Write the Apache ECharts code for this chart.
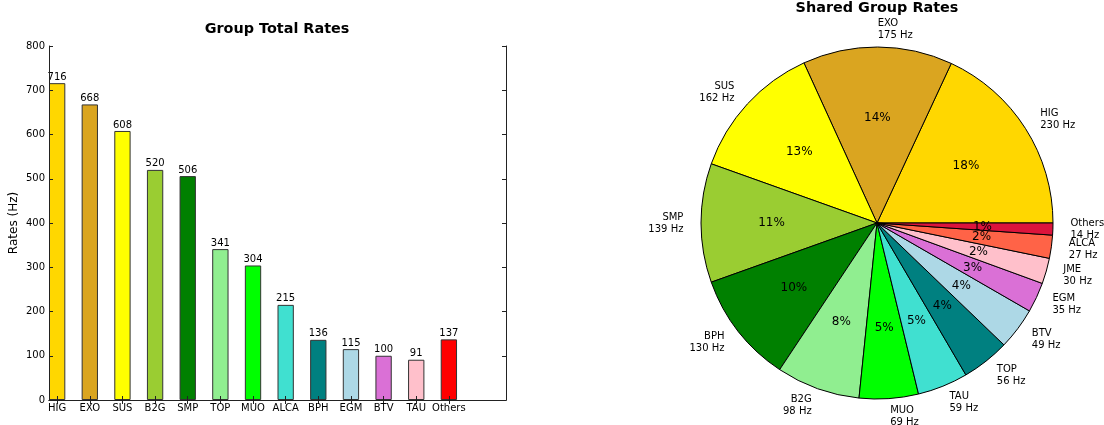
<!DOCTYPE html>
<html>
<head>
<meta charset="utf-8">
<title>Group Rates</title>
<script src="https://cdn.jsdelivr.net/npm/echarts@6/dist/echarts.min.js"></script>
<style>
  html, body { margin: 0; padding: 0; background: #fff; }
  #chart { width: 1104px; height: 425px; }
</style>
</head>
<body>
<div id="chart"></div>
<script>
// Total rate per physics group (Hz)
const barGroups = ['HIG', 'EXO', 'SUS', 'B2G', 'SMP', 'TOP', 'MUO', 'ALCA', 'BPH', 'EGM', 'BTV', 'TAU', 'Others'];
const barRates = [716, 668, 608, 520, 506, 341, 304, 215, 136, 115, 100, 91, 137];
const barColors = ['#FFD700', '#DAA520', '#FFFF00', '#9ACD32', '#008000', '#90EE90', '#00FF00',
                   '#40E0D0', '#008080', '#ADD8E6', '#DA70D6', '#FFC0CB', '#FF0000'];

// Shared rate per physics group (Hz)
const pieGroups = ['HIG', 'EXO', 'SUS', 'SMP', 'BPH', 'B2G', 'MUO', 'TAU', 'TOP', 'BTV', 'EGM', 'JME', 'ALCA', 'Others'];
const pieRates = [230, 175, 162, 139, 130, 98, 69, 59, 56, 49, 35, 30, 27, 14];
const pieColors = ['#FFD700', '#DAA520', '#FFFF00', '#9ACD32', '#008000', '#90EE90', '#00FF00',
                   '#40E0D0', '#008080', '#ADD8E6', '#DA70D6', '#FFC0CB', '#FF6347', '#DC143C'];

const yTicks = { min: 0, max: 800, interval: 100 };

const FONT = 'DejaVu Sans';
const AXIS_COLOR = '#222';

// Each bar spans half a unit, followed by an empty half-unit slot;
// one extra empty unit closes the axis on the right.
const slotNames = [];
const slotData = [];
barGroups.forEach((g, i) => {
  slotNames.push(g);
  slotData.push({ value: barRates[i], itemStyle: { color: barColors[i] } });
  slotNames.push('');
  slotData.push(null);
});
slotNames.push('', '');
slotData.push(null, null);

const isBarSlot = (idx) => idx % 2 === 0 && idx < barGroups.length * 2;

const pieCenter = [877, 223];
const pieRadius = 176;

const pieData = pieGroups.map((g, i) => ({
  name: g,
  value: pieRates[i],
  itemStyle: { color: pieColors[i] }
}));

const chart = echarts.init(document.getElementById('chart'), null, { renderer: 'canvas' });

chart.setOption({
  animation: false,
  textStyle: { fontFamily: FONT },
  title: [
    {
      text: 'Group Total Rates',
      left: 277, top: 22, textAlign: 'center', padding: 0,
      textStyle: { fontFamily: FONT, fontSize: 14.4, fontWeight: 'bold', color: '#000' }
    },
    {
      text: 'Shared Group Rates',
      left: 877, top: 1, textAlign: 'center', padding: 0,
      textStyle: { fontFamily: FONT, fontSize: 14.4, fontWeight: 'bold', color: '#000' }
    }
  ],
  grid: { left: 49, top: 46, width: 457, height: 354, containLabel: false },
  xAxis: [
    {
      type: 'category',
      position: 'bottom',
      data: slotNames,
      boundaryGap: true,
      z: 5,
      axisLine: { show: true, lineStyle: { color: AXIS_COLOR, width: 1 } },
      axisTick: { show: true, inside: true, length: 4, alignWithLabel: true,
                  interval: (idx) => isBarSlot(idx), lineStyle: { color: AXIS_COLOR } },
      axisLabel: { interval: 0, margin: 3, fontSize: 10, color: '#000', fontFamily: FONT },
      splitLine: { show: false }
    },
    {
      type: 'category',
      position: 'top',
      data: slotNames,
      boundaryGap: true,
      z: 5,
      axisLine: { show: true, lineStyle: { color: AXIS_COLOR, width: 1 } },
      axisTick: { show: true, inside: true, length: 4, alignWithLabel: true,
                  interval: (idx) => isBarSlot(idx), lineStyle: { color: AXIS_COLOR } },
      axisLabel: { show: false },
      splitLine: { show: false }
    }
  ],
  yAxis: [
    {
      type: 'value',
      position: 'left',
      min: yTicks.min, max: yTicks.max, interval: yTicks.interval,
      z: 5,
      name: 'Rates (Hz)',
      nameLocation: 'middle',
      nameGap: 29,
      nameTextStyle: { fontSize: 12, color: '#000', fontFamily: FONT },
      axisLine: { show: true, lineStyle: { color: AXIS_COLOR, width: 1 } },
      axisTick: { show: true, inside: true, length: 4, lineStyle: { color: AXIS_COLOR } },
      axisLabel: { margin: 4, fontSize: 10, color: '#000', fontFamily: FONT },
      splitLine: { show: false }
    },
    {
      type: 'value',
      position: 'right',
      min: yTicks.min, max: yTicks.max, interval: yTicks.interval,
      z: 5,
      axisLine: { show: true, lineStyle: { color: AXIS_COLOR, width: 1 } },
      axisTick: { show: true, inside: true, length: 4, lineStyle: { color: AXIS_COLOR } },
      axisLabel: { show: false },
      splitLine: { show: false }
    }
  ],
  series: [
    {
      type: 'bar',
      xAxisIndex: 0,
      yAxisIndex: 0,
      data: slotData,
      barWidth: '100%',
      barCategoryGap: '0%',
      itemStyle: { borderColor: '#333', borderWidth: 1 },
      label: {
        show: true, position: 'top', distance: 1,
        fontSize: 10, color: '#000', fontFamily: FONT
      }
    },
    {
      // slices with group name and rate outside
      type: 'pie',
      center: pieCenter,
      radius: pieRadius,
      startAngle: 0,
      clockwise: false,
      avoidLabelOverlap: false,
      minAngle: 0,
      minShowLabelAngle: 0,
      data: pieData,
      itemStyle: { borderColor: '#000', borderWidth: 1 },
      emphasis: { disabled: true },
      labelLayout: { hideOverlap: false },
      label: {
        show: true,
        position: 'outside',
        distanceToLabelLine: 0,
        fontSize: 10,
        lineHeight: 12,
        color: '#000',
        fontFamily: FONT,
        formatter: (p) => p.name + '\n' + p.value + ' Hz'
      },
      labelLine: { show: false, length: pieRadius * 0.1, length2: 0 }
    },
    {
      // percentage labels over the slices
      type: 'pie',
      center: pieCenter,
      radius: [29, pieRadius],
      startAngle: 0,
      clockwise: false,
      avoidLabelOverlap: false,
      minShowLabelAngle: 0,
      silent: true,
      z: 3,
      data: pieData.map((d) => ({ name: d.name, value: d.value })),
      itemStyle: { color: 'rgba(0,0,0,0)', borderWidth: 0 },
      emphasis: { disabled: true },
      labelLayout: { hideOverlap: false },
      label: {
        show: true,
        position: 'inside',
        fontSize: 12,
        color: '#000',
        fontFamily: FONT,
        formatter: (p) => Math.round(p.percent) + '%'
      },
      labelLine: { show: false }
    }
  ]
});
</script>
</body>
</html>
